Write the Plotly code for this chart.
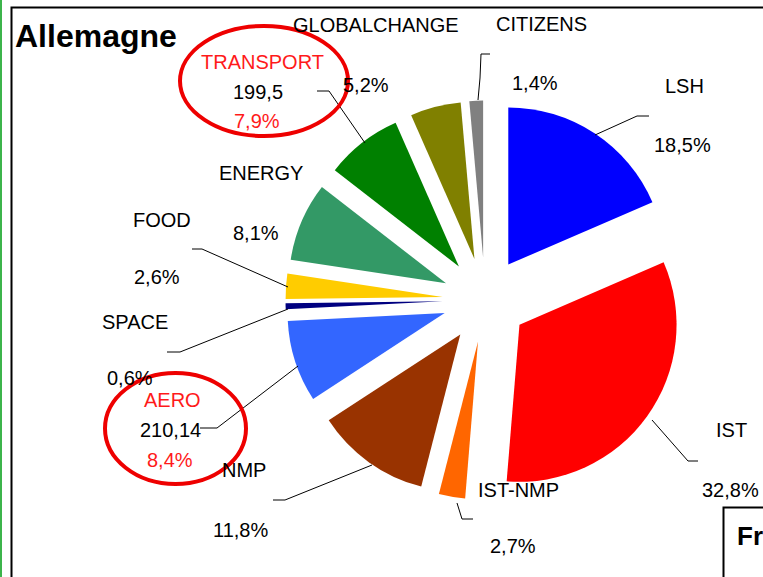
import plotly.graph_objects as go

W, H = 763, 577

# data (shares in %, clockwise from 12 o'clock)
categories = ['LSH', 'IST', 'IST-NMP', 'NMP', 'AERO', 'SPACE', 'FOOD',
              'ENERGY', 'TRANSPORT', 'GLOBALCHANGE', 'CITIZENS']
shares = [18.5, 32.8, 2.7, 11.8, 8.4, 0.6, 2.6, 8.1, 7.9, 5.2, 1.4]
amounts = {'TRANSPORT': 199.5, 'AERO': 210.14}
highlighted = ['TRANSPORT', 'AERO']

slice_colors = ['#0000FF', '#FF0000', '#FF6600', '#993300', '#3366FF', '#000080',
                '#FFCC00', '#339966', '#008000', '#808000', '#808080']

# layout: label positions in pixels (x, y from top)
label_pos = {
    'LSH': (684, 86), 'IST': (731, 430), 'IST-NMP': (518, 490), 'NMP': (244, 470),
    'AERO': (172, 400), 'SPACE': (135, 322), 'FOOD': (162, 220), 'ENERGY': (261, 173),
    'TRANSPORT': (262, 62), 'GLOBALCHANGE': (376, 25), 'CITIZENS': (541, 24),
}
pct_pos = {
    'LSH': (682, 145), 'IST': (730, 490), 'IST-NMP': (513, 546), 'NMP': (241, 530),
    'AERO': (170, 460), 'SPACE': (130, 378), 'FOOD': (157, 277), 'ENERGY': (256, 233),
    'TRANSPORT': (257, 121), 'GLOBALCHANGE': (366, 85), 'CITIZENS': (535, 83),
}
amount_pos = {'TRANSPORT': (258, 92), 'AERO': (170, 430)}
leaders = {
    'TRANSPORT': [(317, 91), (329, 91), (365, 143)],
    'CITIZENS': [(490, 54), (481, 54), (480, 78), (478, 100)],
    'LSH': [(595, 135), (637, 116), (649, 116)],
    'IST': [(652, 420), (688, 461), (698, 461)],
    'IST-NMP': [(457, 503), (462, 519), (473, 519)],
    'NMP': [(372, 465), (285, 500), (273, 500)],
    'AERO': [(298, 366), (217, 428), (200, 428)],
    'SPACE': [(288, 309), (180, 352), (167, 352)],
    'FOOD': [(192, 249), (202, 249), (288, 287)],
}
ellipses = {'TRANSPORT': (180, 26, 348, 136), 'AERO': (105, 373, 246, 484)}

FONT = 'Liberation Sans, Arial, sans-serif'
RED = '#FF1A1A'


def px(x, y):
    return x / W, 1 - y / H


def fmt(v):
    return f'{v:.1f}'.replace('.', ',') + '%'


def fmt_amount(v):
    s = f'{v:.2f}'.rstrip('0')
    return s.replace('.', ',')


fig = go.Figure()

# pie centred at (485, 300) px, radius ~157 px, pull 0.27
cx, cy, half = 485, 300, 199.5
fig.add_trace(go.Pie(
    labels=categories,
    values=shares,
    sort=False,
    direction='clockwise',
    rotation=0,
    pull=[0.27] * len(categories),
    marker=dict(colors=slice_colors, line=dict(width=0)),
    textinfo='none',
    hoverinfo='label+percent',
    showlegend=False,
    domain=dict(x=[(cx - half) / W, (cx + half) / W],
                y=[1 - (cy + half) / H, 1 - (cy - half) / H]),
))


def note(xy, text, size=20, color='black', xanchor='center'):
    x, y = px(*xy)
    return dict(x=x, y=y, xref='paper', yref='paper', text=text, showarrow=False,
                xanchor=xanchor, yanchor='middle',
                font=dict(family=FONT, size=size, color=color))


annotations = []
for name, share in zip(categories, shares):
    col = RED if name in highlighted else 'black'
    annotations.append(note(label_pos[name], name, color=col))
    annotations.append(note(pct_pos[name], fmt(share), color=col))
    if name in amounts:
        annotations.append(note(amount_pos[name], fmt_amount(amounts[name])))

annotations.append(note((13, 36), '<b>Allemagne</b>', size=32, xanchor='left'))
annotations.append(note((735, 536), '<b>Fr</b>', size=26, xanchor='left'))

shapes = []
for name, pts in leaders.items():
    path = 'M ' + ' L '.join(f'{px(*p)[0]},{px(*p)[1]}' for p in pts)
    shapes.append(dict(type='path', path=path, xref='paper', yref='paper',
                       line=dict(color='black', width=1)))
for name, (x0, y0, x1, y1) in ellipses.items():
    a0, b0 = px(x0, y1)
    a1, b1 = px(x1, y0)
    shapes.append(dict(type='circle', xref='paper', yref='paper', x0=a0, y0=b0, x1=a1, y1=b1,
                       line=dict(color='#EE0000', width=4)))

# frame, right-bottom box, green edge
a0, b0 = px(11.5, H + 10)
a1, b1 = px(W + 10, 7.5)
shapes.append(dict(type='rect', xref='paper', yref='paper', x0=a0, y0=b0, x1=a1, y1=b1,
                   line=dict(color='black', width=2)))
a0, b0 = px(723.5, H + 10)
a1, b1 = px(W + 10, 507.5)
shapes.append(dict(type='rect', xref='paper', yref='paper', x0=a0, y0=b0, x1=a1, y1=b1,
                   line=dict(color='black', width=2)))
shapes.append(dict(type='line', xref='paper', yref='paper', x0=1 / W, x1=1 / W, y0=0, y1=1,
                   line=dict(color='#3CB44B', width=2)))

fig.update_layout(
    width=W, height=H,
    margin=dict(l=0, r=0, t=0, b=0),
    paper_bgcolor='white',
    plot_bgcolor='white',
    annotations=annotations,
    shapes=shapes,
)

# drop the default 8px page margin so the figure sits at the window corner
fig.write_html('out.html', config={'displayModeBar': False},
               post_script="document.body.style.margin='0';")
